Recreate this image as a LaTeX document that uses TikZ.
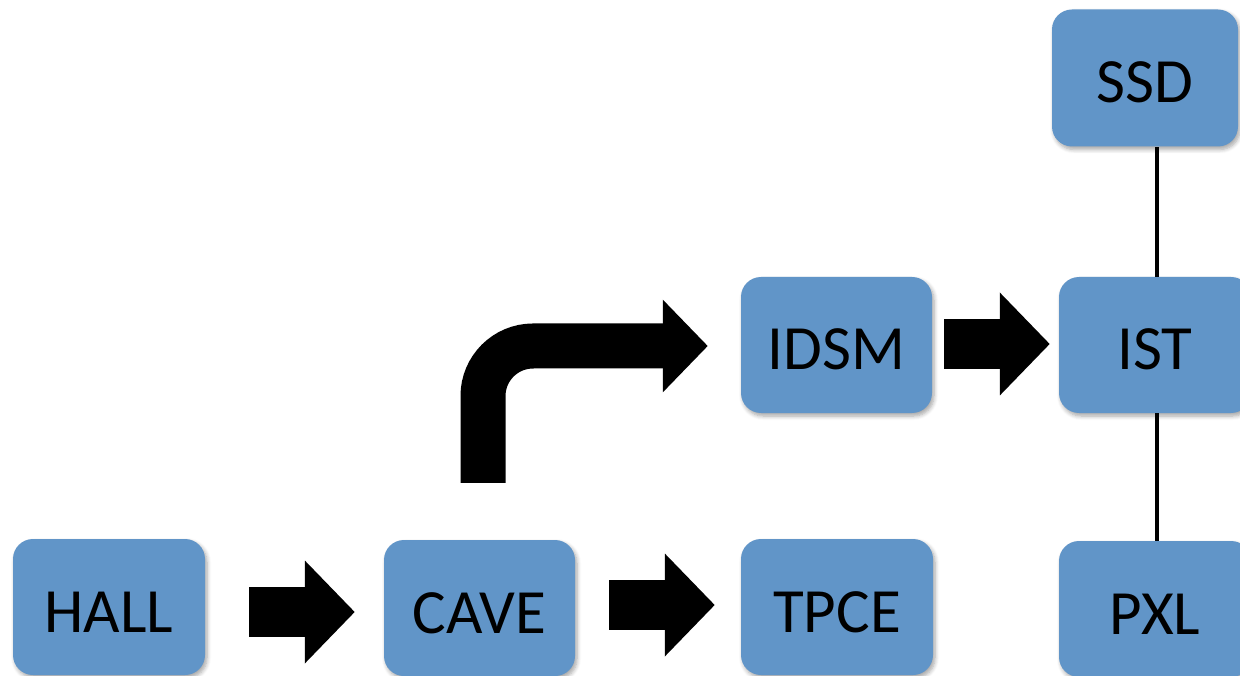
\documentclass[tikz,border=0pt]{standalone}
\usepackage{fontspec}
\setmainfont{Carlito}
\usetikzlibrary{
    arrows.meta,
    positioning,
    calc,
    shadows.blur
}
\definecolor{boxblue}{HTML}{6195C8}
\tikzset{
    % Detector box style
    unit/.style={
        rectangle,
        rounded corners=20pt,
        minimum width=192pt,
        minimum height=136pt,
        inner sep=0pt,
        text height=50pt,
        text depth=0pt,
        align=center,
        font=\fontsize{63}{70}\selectfont,
        fill=boxblue,
        draw=none,
        blur shadow={shadow blur steps=6, shadow xshift=2pt, shadow yshift=-3pt, shadow blur radius=4pt, shadow opacity=35}
    },
    % Block arrow style
    bigflow/.style={
        -{Triangle[length=#1pt, width=2*#1pt]},
        line width=#1pt,
        draw=black
    },
    % Plain link style
    link/.style={
        line width=4.5pt,
        draw=black
    }
}
\begin{document}
\begin{tikzpicture}[x=1pt, y=-1pt]
    \useasboundingbox (0,0) rectangle (1240,676);

    % Lower row
    \node[unit] (hall) at (109, 607) {HALL};
    \node[unit, minimum width=191pt] (cave) at (479.5, 608) {CAVE};
    \node[unit] (tpce) at (837, 607) {TPCE};
    \node[unit] (pxl) at (1155, 609) {PXL};

    % Middle row
    \node[unit, minimum width=191pt] (idsm) at (836.5, 345) {IDSM};
    \node[unit] (ist) at (1155, 345) {IST};

    % Top
    \node[unit, minimum width=186pt, minimum height=137pt] (ssd) at (1145, 78) {SSD};

    % Block arrows
    \draw[bigflow=50] ($(hall.east)+(44,5)$) -- ($(cave.west)+(-29,4)$);
    \draw[bigflow=50] ($(cave.east)+(34,-3)$) -- ($(tpce.west)+(-26,-2)$);
    \draw[bigflow=50] ($(idsm.east)+(12,-1)$) -- ($(ist.west)+(-9,-1)$);
    \draw[bigflow=45, rounded corners=50pt] ($(cave.north)+(3.5,-57)$) |- ($(idsm.west)+(-33,1)$);

    % Links
    \draw[link] ([xshift=2pt]ist.north) -- ([xshift=2pt]ist.north |- ssd.south);
    \draw[link] ([xshift=2pt]ist.south) -- ([xshift=2pt]ist.south |- pxl.north);

\end{tikzpicture}
\end{document}
